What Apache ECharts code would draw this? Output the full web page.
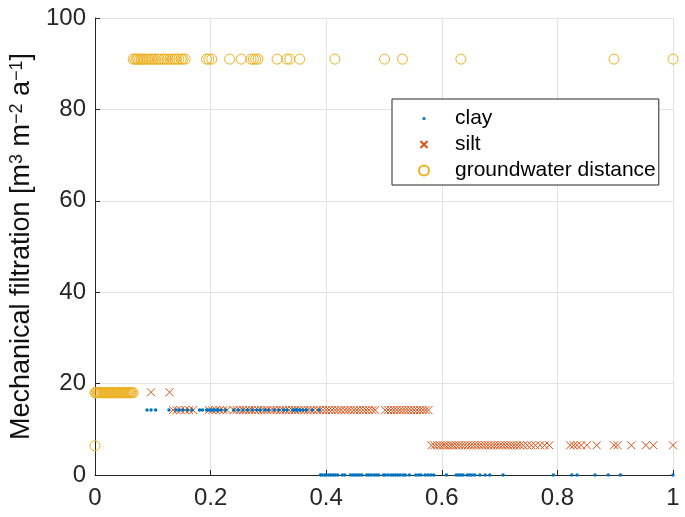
<!DOCTYPE html>
<html><head><meta charset="utf-8">
<script src="https://cdn.jsdelivr.net/npm/echarts@6/dist/echarts.min.js"></script>
<style>html,body{margin:0;padding:0;background:#fff}#c{width:685px;height:517px}</style>
</head><body><div id="c"></div>
<script>
// ---- data ----
const seriesNames = ['clay', 'silt', 'groundwater distance'];
const xTicks = [0, 0.2, 0.4, 0.6, 0.8, 1];
const yTicks = [0, 20, 40, 60, 80, 100];

// clay
const clayHighY = 14.2;
const clayHighX = [0.090, 0.097, 0.105, 0.128, 0.140, 0.146, 0.152, 0.160, 0.168, 0.181, 0.186, 0.193, 0.197, 0.200, 0.203, 0.206, 0.210, 0.213, 0.218, 0.226, 0.240, 0.248, 0.256, 0.264, 0.272, 0.280, 0.286, 0.294, 0.300, 0.310, 0.318, 0.326, 0.332, 0.342, 0.345, 0.348, 0.351, 0.355, 0.360, 0.366, 0.376, 0.388];
const clayLowY = 0;
const clayLowX = [0.390, 0.393, 0.397, 0.400, 0.404, 0.408, 0.412, 0.416, 0.420, 0.428, 0.432, 0.442, 0.446, 0.450, 0.454, 0.458, 0.462, 0.470, 0.474, 0.478, 0.483, 0.487, 0.491, 0.499, 0.502, 0.507, 0.512, 0.516, 0.520, 0.524, 0.528, 0.533, 0.537, 0.544, 0.555, 0.560, 0.564, 0.571, 0.576, 0.581, 0.586, 0.608, 0.625, 0.629, 0.633, 0.637, 0.644, 0.648, 0.652, 0.657, 0.666, 0.675, 0.683, 0.706, 0.793, 0.825, 0.834, 0.865, 0.888, 0.909, 1.0];

// silt
const siltTopY = 18.1;
const siltTopX = [0.097, 0.129];
const siltHighY = 14.2;
const siltHighX = [0.135, 0.141, 0.148, 0.156, 0.163, 0.170, 0.197, 0.203, 0.209, 0.216, 0.222, 0.228, 0.240, 0.245, 0.250, 0.256, 0.261, 0.266, 0.271, 0.277, 0.282, 0.288, 0.293, 0.298, 0.304, 0.309, 0.314, 0.320, 0.325, 0.330, 0.336, 0.341, 0.346, 0.352, 0.357, 0.362, 0.368, 0.373, 0.378, 0.384, 0.389, 0.394, 0.400, 0.405, 0.410, 0.416, 0.421, 0.426, 0.432, 0.437, 0.442, 0.448, 0.453, 0.458, 0.464, 0.469, 0.474, 0.480, 0.485, 0.502, 0.507, 0.512, 0.517, 0.522, 0.527, 0.532, 0.537, 0.542, 0.547, 0.552, 0.557, 0.562, 0.567, 0.572, 0.577];
const siltLowY = 6.5;
const siltLowX = [0.582, 0.587, 0.592, 0.597, 0.602, 0.606, 0.611, 0.616, 0.620, 0.625, 0.630, 0.635, 0.640, 0.645, 0.650, 0.655, 0.660, 0.665, 0.670, 0.675, 0.680, 0.685, 0.690, 0.695, 0.700, 0.705, 0.710, 0.715, 0.720, 0.725, 0.730, 0.735, 0.741, 0.748, 0.755, 0.762, 0.770, 0.778, 0.786, 0.822, 0.828, 0.834, 0.841, 0.851, 0.868, 0.898, 0.904, 0.928, 0.953, 0.966, 1.0];

// groundwater distance
const gwHighY = 91;
const gwHighX = [0.066, 0.069, 0.072, 0.074, 0.077, 0.080, 0.083, 0.086, 0.090, 0.093, 0.097, 0.100, 0.104, 0.108, 0.111, 0.115, 0.119, 0.122, 0.126, 0.130, 0.134, 0.138, 0.141, 0.145, 0.149, 0.152, 0.156, 0.193, 0.197, 0.202, 0.233, 0.253, 0.270, 0.274, 0.278, 0.282, 0.315, 0.332, 0.337, 0.354, 0.415, 0.501, 0.532, 0.633, 0.898, 1.0];
const gwMidY = 18;
const gwMidX = [0, 0.002, 0.004, 0.006, 0.008, 0.010, 0.012, 0.014, 0.016, 0.018, 0.020, 0.022, 0.024, 0.026, 0.028, 0.030, 0.032, 0.034, 0.036, 0.038, 0.040, 0.042, 0.044, 0.046, 0.048, 0.050, 0.052, 0.054, 0.056, 0.058, 0.060, 0.062, 0.064, 0.066];
const gwLowY = 6.4;
const gwLowX = [0];

const pts = (xs, y) => xs.map(x => [x, y]);
const clayData = pts(clayHighX, clayHighY).concat(pts(clayLowX, clayLowY));
const siltData = pts(siltTopX, siltTopY).concat(pts(siltHighX, siltHighY), pts(siltLowX, siltLowY));
const gwData = pts(gwMidX, gwMidY).concat(pts(gwHighX, gwHighY), pts(gwLowX, gwLowY));

const C_CLAY = '#0072BD', C_SILT = '#D95319', C_GW = '#EDB120';
const AX = '#262626';
const FONT = 'Liberation Sans, Arial, sans-serif';
const crossPath = 'path://M0,0L10,10M10,0L0,10';
const crossIcon = 'path://M0,0M10,10M1.5,1.5L8.5,8.5M8.5,1.5L1.5,8.5';
const dotIcon = 'path://M0,0M10,10M3.4,5A1.6,1.6,0,1,1,6.6,5A1.6,1.6,0,1,1,3.4,5Z';

const chart = echarts.init(document.getElementById('c'), null, {renderer: 'canvas'});
chart.setOption({
  animation: false,
  backgroundColor: '#fff',
  textStyle: {fontFamily: FONT},
  grid: {left: 95, right: 12, top: 18, bottom: 42, containLabel: false},
  xAxis: {
    type: 'value', min: xTicks[0], max: xTicks[xTicks.length - 1], interval: xTicks[1] - xTicks[0],
    axisLine: {show: true, onZero: false, lineStyle: {color: AX, width: 1}},
    axisTick: {show: true, inside: true, length: 5, lineStyle: {color: AX}},
    axisLabel: {color: AX, fontSize: 24, margin: 11, fontFamily: FONT},
    splitLine: {show: true, lineStyle: {color: '#e3e3e3', width: 1}}
  },
  yAxis: {
    type: 'value', min: yTicks[0], max: yTicks[yTicks.length - 1], interval: yTicks[1] - yTicks[0],
    name: 'Mechanical filtration [m{sup|3} m{sup|\u22122} a{sup|\u22121}]', nameLocation: 'middle', nameGap: 58,
    nameTextStyle: {color: '#111', fontSize: 27, fontFamily: FONT,
      rich: {sup: {fontSize: 18, verticalAlign: 'top', color: '#111', fontFamily: FONT, lineHeight: 18}}},
    axisLine: {show: true, onZero: false, lineStyle: {color: AX, width: 1}},
    axisTick: {show: true, inside: true, length: 5, lineStyle: {color: AX}},
    axisLabel: {color: AX, fontSize: 24, margin: 9, fontFamily: FONT},
    splitLine: {show: true, lineStyle: {color: '#e3e3e3', width: 1}}
  },
  legend: {
    orient: 'vertical', left: 392, top: 99,
    padding: [9, 3, 4, 26], itemGap: 5, itemWidth: 52, itemHeight: 10,
    backgroundColor: '#fff', borderColor: AX, borderWidth: 1, borderRadius: 0,
    textStyle: {color: '#000', fontSize: 21, fontFamily: FONT, lineHeight: 20},
    data: [
      {name: seriesNames[0], icon: dotIcon},
      {name: seriesNames[1], icon: crossIcon},
      {name: seriesNames[2], icon: 'circle'}
    ]
  },
  series: [
    {name: seriesNames[0], type: 'scatter', data: clayData, symbol: 'circle', symbolSize: 3.5, z: 4, clip: false,
     itemStyle: {color: C_CLAY, opacity: 1}},
    {name: seriesNames[1], type: 'scatter', data: siltData, symbol: crossPath, symbolSize: 8, z: 3, clip: false,
     itemStyle: {color: 'rgba(0,0,0,0)', borderColor: C_SILT, borderWidth: 1, opacity: 1}},
    {name: seriesNames[2], type: 'scatter', data: gwData, symbol: 'circle', symbolSize: 10, z: 2, clip: false,
     itemStyle: {color: 'rgba(0,0,0,0)', borderColor: C_GW, borderWidth: 1, opacity: 1}}
  ]
});
</script></body></html>
